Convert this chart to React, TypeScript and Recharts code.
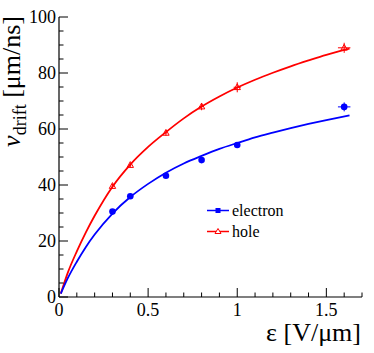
import React from 'react';
import { ComposedChart, Line, Scatter, XAxis, YAxis, ErrorBar, Legend } from 'recharts';

// measured drift velocities
const fieldPoints = [0.3, 0.4, 0.6, 0.8, 1.0, 1.6];
const electronV = [30.5, 36, 43.3, 48.9, 54.3, 67.9];
const electronErrV = [0.6, 0.6, 0.7, 0.8, 1.0, 1.6];
const electronErrE = [0.005, 0.005, 0.008, 0.01, 0.015, 0.035];
const holeV = [39.6, 47.1, 58.6, 68, 74.9, 89];
const holeErrV = [0.8, 0.8, 1.0, 1.3, 1.8, 1.8];
const holeErrE = [0.005, 0.006, 0.008, 0.012, 0.02, 0.035];

// fit curves
const fitField = [0.01, 0.05, 0.1, 0.15, 0.2, 0.3, 0.4, 0.5, 0.6, 0.7, 0.8, 0.9, 1.0, 1.1, 1.2, 1.3, 1.4, 1.5, 1.63];
const electronFit = [1.2, 6.8, 12.6, 17.8, 22.3, 29.8, 35.7, 40.4, 44.4, 47.7, 50.4, 52.9, 55, 57, 58.7, 60.3, 61.8, 63.2, 64.9];
const holeFit = [1.2, 8.8, 16.3, 23, 29, 39.4, 47.3, 53.6, 58.9, 63.8, 68, 71.6, 74.8, 77.6, 80.1, 82.4, 84.5, 86.5, 88.7];

const xTicks = [0, 0.1, 0.2, 0.3, 0.4, 0.5, 0.6, 0.7, 0.8, 0.9, 1.0, 1.1, 1.2, 1.3, 1.4, 1.5, 1.6, 1.7];
const xLabels = ['0', '0.5', '1', '1.5'];
const yTicks = [0, 5, 10, 15, 20, 25, 30, 35, 40, 45, 50, 55, 60, 65, 70, 75, 80, 85, 90, 95, 100];
const yLabels = ['0', '20', '40', '60', '80', '100'];

const BLUE = '#0000ff';
const RED = '#ff0000';
const FONT = "'Liberation Serif', 'Times New Roman', Times, 'DejaVu Serif', serif";

const electronPts = fieldPoints.map((e, i) => ({ e, v: electronV[i], ev: electronErrV[i], ee: electronErrE[i] }));
const holePts = fieldPoints.map((e, i) => ({ e, v: holeV[i], ev: holeErrV[i], ee: holeErrE[i] }));
const electronCurve = fitField.map((e, i) => ({ e, v: electronFit[i] }));
const holeCurve = fitField.map((e, i) => ({ e, v: holeFit[i] }));

const xLabel = (v: number) => xLabels.find((l) => Math.abs(parseFloat(l) - v) < 1e-6);
const yLabel = (v: number) => yLabels.find((l) => parseFloat(l) === v);

const BottomTick = (p: any) => {
  const lab = xLabel(p.payload.value);
  return (
    <g>
      <line x1={p.x} x2={p.x} y1={p.y} y2={p.y - (lab ? 9 : 4.5)} stroke="#000" />
      {lab && (
        <text x={p.x} y={p.y + 19} textAnchor="middle" fontSize={18} style={{ fontFamily: FONT }} fill="#000">
          {lab}
        </text>
      )}
    </g>
  );
};

const TopTick = (p: any) => {
  const lab = xLabel(p.payload.value);
  return <line x1={p.x} x2={p.x} y1={p.y} y2={p.y + (lab ? 9 : 4.5)} stroke="#000" />;
};

const LeftTick = (p: any) => {
  const lab = yLabel(p.payload.value);
  return (
    <g>
      <line x1={p.x} x2={p.x + (lab ? 9 : 4.5)} y1={p.y} y2={p.y} stroke="#000" />
      {lab && (
        <text x={p.x - 3} y={p.y + 6} textAnchor="end" fontSize={18} style={{ fontFamily: FONT }} fill="#000">
          {lab}
        </text>
      )}
    </g>
  );
};

const RightTick = (p: any) => {
  const lab = yLabel(p.payload.value);
  return <line x1={p.x} x2={p.x - (lab ? 9 : 4.5)} y1={p.y} y2={p.y} stroke="#000" />;
};

const Triangle = (p: any) => (
  <polygon
    points={`${p.cx},${p.cy - 3.5} ${p.cx - 3.2},${p.cy + 2.3} ${p.cx + 3.2},${p.cy + 2.3}`}
    fill="none"
    stroke={RED}
    strokeWidth={1}
  />
);

const Dot = (p: any) => <circle cx={p.cx} cy={p.cy} r={3.3} fill={BLUE} />;

const legendItems = [
  { name: 'electron', color: BLUE, marker: 'square' },
  { name: 'hole', color: RED, marker: 'triangle' },
];

const LegendBox = () => (
  <div style={{ fontFamily: FONT, fontSize: 16, lineHeight: '21px' }}>
    {legendItems.map((it) => (
      <div key={it.name} style={{ display: 'flex', alignItems: 'center', height: 21 }}>
        <svg width={22} height={21}>
          <line x1={0} x2={22} y1={10.5} y2={10.5} stroke={it.color} strokeWidth={1.5} />
          {it.marker === 'square' ? (
            <rect x={8.5} y={8} width={5} height={5} fill={it.color} />
          ) : (
            <polygon points="11,7.5 8,12.5 14,12.5" fill="#fff" stroke={it.color} strokeWidth={1} />
          )}
        </svg>
        <span style={{ marginLeft: 3, color: '#000' }}>{it.name}</span>
      </div>
    ))}
  </div>
);

export default function App() {
  return (
    <div style={{ position: 'absolute', left: 0, top: 0, background: '#fff' }}>
      <ComposedChart width={374} height={353} margin={{ top: 17, right: 12, bottom: 0, left: 0 }}>
        <XAxis
          dataKey="e"
          type="number"
          domain={[0, 1.7]}
          ticks={xTicks}
          interval={0}
          allowDataOverflow
          height={56}
          tickSize={0}
          tickMargin={0}
          tickLine={false}
          axisLine={{ stroke: '#000', strokeWidth: 1.2 }}
          tick={BottomTick}
          label={{
            content: () => (
              <text x={361} y={341} textAnchor="end" fontSize={26} style={{ fontFamily: FONT }} fill="#000">
                ε [V/μm]
              </text>
            ),
          }}
        />
        <XAxis
          xAxisId="top"
          orientation="top"
          type="number"
          domain={[0, 1.7]}
          ticks={xTicks}
          interval={0}
          allowDataOverflow
          height={0}
          tickSize={0}
          tickMargin={0}
          tickLine={false}
          axisLine={{ stroke: '#000', strokeWidth: 1.2 }}
          tick={TopTick}
        />
        <YAxis
          type="number"
          domain={[0, 100]}
          ticks={yTicks}
          interval={0}
          allowDataOverflow
          width={59}
          tickSize={0}
          tickMargin={0}
          tickLine={false}
          axisLine={{ stroke: '#000', strokeWidth: 1.2 }}
          tick={LeftTick}
          label={{
            content: () => (
              <text transform="translate(20,16) rotate(-90)" textAnchor="end" fontSize={26} style={{ fontFamily: FONT }} fill="#000">
                <tspan fontStyle="italic">v</tspan>
                <tspan fontSize={18} dy={6}>drift</tspan>
                <tspan dy={-6}> [μm/ns]</tspan>
              </text>
            ),
          }}
        />
        <YAxis
          yAxisId="right"
          orientation="right"
          type="number"
          domain={[0, 100]}
          ticks={yTicks}
          interval={0}
          allowDataOverflow
          width={0}
          tickSize={0}
          tickMargin={0}
          tickLine={false}
          axisLine={{ stroke: '#000', strokeWidth: 1.2 }}
          tick={RightTick}
        />
        <Legend
          layout="vertical"
          align="center"
          verticalAlign="middle"
          content={LegendBox}
          wrapperStyle={{ position: 'absolute', left: 207, top: 200, width: 'auto', height: 'auto' }}
        />
        <Line data={holeCurve} dataKey="v" type="monotone" stroke={RED} strokeWidth={1.8} dot={false} isAnimationActive={false} legendType="none" />
        <Line data={electronCurve} dataKey="v" type="monotone" stroke={BLUE} strokeWidth={1.8} dot={false} isAnimationActive={false} legendType="none" />
        <Scatter data={holePts} dataKey="v" shape={Triangle} isAnimationActive={false}>
          <ErrorBar dataKey="ev" direction="y" width={0} stroke={RED} strokeWidth={1} />
          <ErrorBar dataKey="ee" direction="x" width={0} stroke={RED} strokeWidth={1} />
        </Scatter>
        <Scatter data={electronPts} dataKey="v" shape={Dot} isAnimationActive={false}>
          <ErrorBar dataKey="ev" direction="y" width={0} stroke={BLUE} strokeWidth={1} />
          <ErrorBar dataKey="ee" direction="x" width={0} stroke={BLUE} strokeWidth={1} />
        </Scatter>
      </ComposedChart>
    </div>
  );
}
